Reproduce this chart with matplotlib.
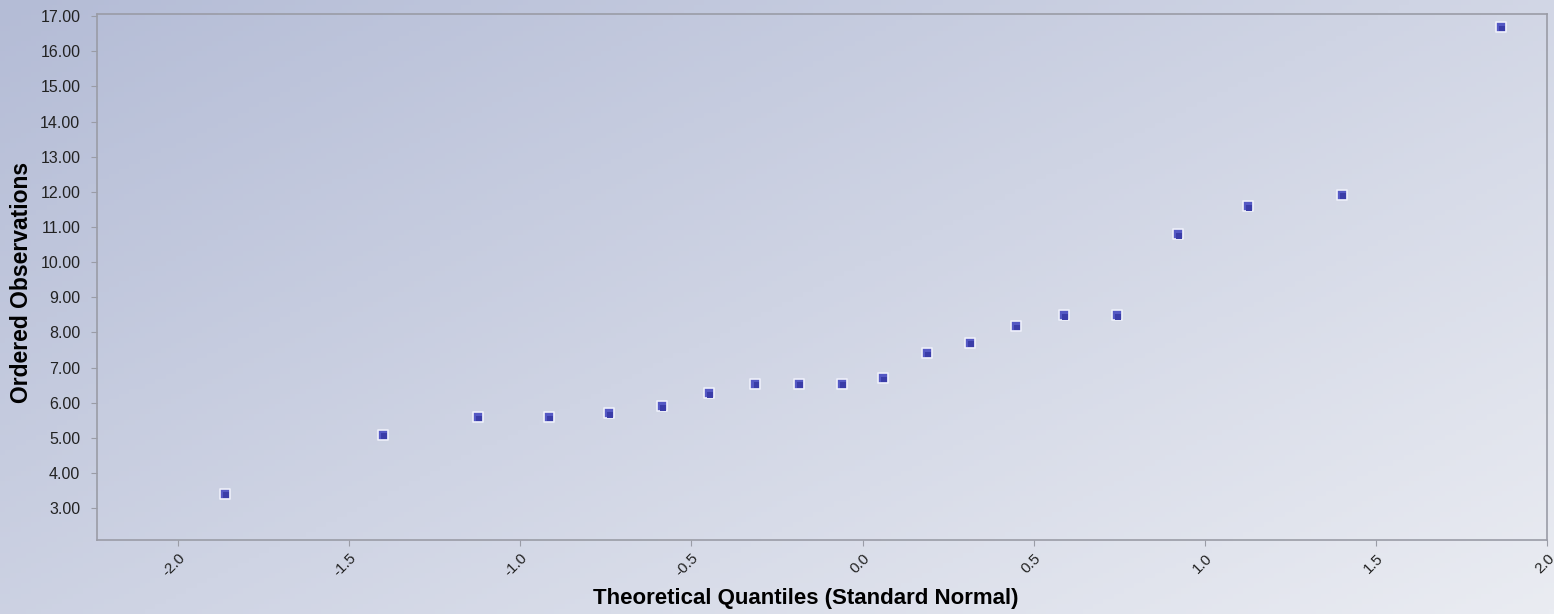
import numpy as np
import matplotlib
matplotlib.use("Agg")
import matplotlib.pyplot as plt

# ---------------- DATA ----------------
theoretical_q = [-1.863, -1.401, -1.124, -0.916, -0.741, -0.586, -0.449, -0.314,
                 -0.186, -0.060, 0.060, 0.188, 0.314, 0.448, 0.588, 0.743,
                 0.921, 1.126, 1.400, 1.865]
ordered_obs = [3.40, 5.08, 5.59, 5.59, 5.70, 5.90, 6.27, 6.53,
               6.53, 6.53, 6.70, 7.41, 7.70, 8.18, 8.49, 8.49,
               10.79, 11.59, 11.91, 16.69]
x_ticks = [-2.0, -1.5, -1.0, -0.5, 0.0, 0.5, 1.0, 1.5, 2.0]
y_ticks = [3, 4, 5, 6, 7, 8, 9, 10, 11, 12, 13, 14, 15, 16, 17]
# --------------------------------------

plt.rcParams["font.family"] = ["Liberation Sans", "DejaVu Sans"]
plt.rcParams["axes.unicode_minus"] = False

fig = plt.figure(figsize=(15.54, 6.14), dpi=100)

# diagonal background gradient
bg = fig.add_axes([0, 0, 1, 1], zorder=-10)
gx, gy = np.meshgrid(np.linspace(0, 1, 300), np.linspace(0, 1, 120))
t = np.clip(0.55 * gx + 0.45 * gy, 0, 1)[..., None]
c0 = np.array([180, 188, 214]) / 255
c1 = np.array([234, 236, 242]) / 255
bg.imshow(c0 + (c1 - c0) * t, aspect="auto", extent=[0, 1, 0, 1], origin="upper")
bg.axis("off")

ax = fig.add_axes([0.0624, 0.1205, 0.9331, 0.8565])
ax.patch.set_alpha(0)
ax.scatter(theoretical_q, ordered_obs, marker="s", s=55, facecolor="#5458c4",
           edgecolor="#eef0fa", linewidth=1.2, zorder=3)
ax.scatter(np.array(theoretical_q) + 0.004, np.array(ordered_obs) - 0.04, marker="s",
           s=18, facecolor="#3a3ca8", edgecolor="none", zorder=4)

ax.set_xlim(-2.237, 2.0)
ax.set_ylim(2.09, 17.06)
ax.set_xticks(x_ticks)
ax.set_xticklabels([f"{v:.1f}" for v in x_ticks], rotation=45, ha="right",
                   rotation_mode="anchor", fontsize=11, color="#222222")
ax.set_yticks(y_ticks)
ax.set_yticklabels([f"{v:.2f}" for v in y_ticks], fontsize=11.5, color="#222222")

for s in ax.spines.values():
    s.set_color("#9a9ca6")
    s.set_linewidth(1.2)
ax.tick_params(axis="y", direction="out", length=4, color="#9a9ca6", pad=8)
ax.tick_params(axis="x", direction="out", length=4, color="#9a9ca6", pad=4)

ax.set_ylabel("Ordered Observations", fontsize=16.5, fontweight="bold")
ax.set_xlabel("Theoretical Quantiles (Standard Normal)", fontsize=16,
              fontweight="bold")
ax.yaxis.set_label_coords(-0.044, 0.49)
ax.xaxis.set_label_coords(0.489, -0.091)

fig.savefig("out.png", dpi=100)
